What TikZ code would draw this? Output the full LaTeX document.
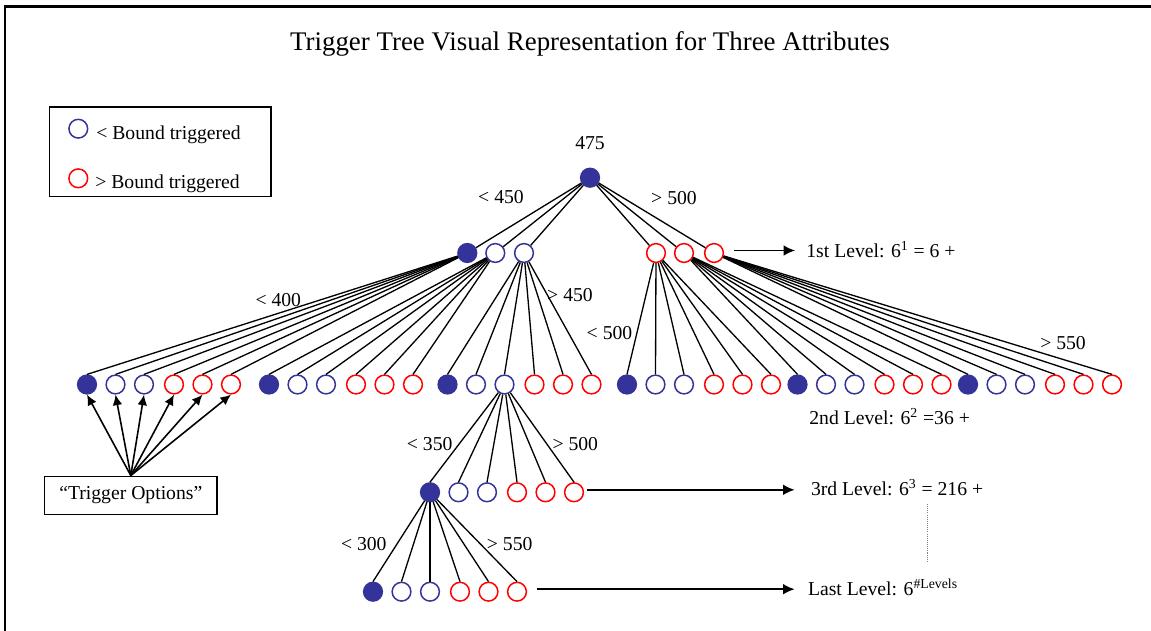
\documentclass[tikz,border=0pt]{standalone}
\usepackage{fontspec}
\setmainfont{Liberation Serif}
\usetikzlibrary{arrows.meta}

\definecolor{lowblue}{HTML}{333399}
\definecolor{highred}{HTML}{FF0000}

\begin{document}
\begin{tikzpicture}[
    x=0.02cm, y=-0.02cm,
    edge/.style={line width=0.75pt},
    arr/.style={-{Latex[length=6.5pt,width=6pt]}, line width=0.9pt},
    trig/.style={-{Latex[length=6pt,width=5.5pt]}, line width=0.9pt},
    bnode/.style={circle, line width=0.85pt, minimum size=0.375cm, inner sep=0pt},
    firenode/.style={bnode, draw=lowblue, fill=lowblue},
    lonode/.style={bnode, draw=lowblue, fill=white},
    hinode/.style={bnode, draw=highred, fill=white},
    lbl/.style={font=\fontsize{11.2}{13}\selectfont, inner sep=0pt, anchor=base},
    lvl/.style={lbl, anchor=base west},
    box/.style={draw, line width=0.9pt, inner sep=0pt}
]
\useasboundingbox (0,0) rectangle (1151,631);
% Frame and title
\draw[line width=1.2pt] (5,631) -- (5,6.5) -- (1151,6.5);
\node[lbl, font=\fontsize{15.3}{18}\selectfont] (title) at (590,50.7)
    {Trigger Tree Visual Representation for Three Attributes};
% Legend
\node[box, minimum width=4.434cm, minimum height=1.794cm] (legend) at (160.2,151.8) {};
\node[lonode] (keylo) at (78.3,128.7) {};
\node[hinode] (keyhi) at (78.3,178.3) {};
\node[lvl] (keylotxt) at (96,139.3) {< Bound triggered};
\node[lvl] (keyhitxt) at (95,188.3) {> Bound triggered};
% Root and 1st level
\node[firenode] (root) at (590,177.7) {};
\node[lbl] (v475) at (590,150) {475};
\node[firenode] (l1) at (467.3,253) {};
\node[lonode]   (l2) at (495.3,253) {};
\node[lonode]   (l3) at (524,253) {};
\node[hinode]   (r1) at (656,253) {};
\node[hinode]   (r2) at (684,253) {};
\node[hinode]   (r3) at (714,253) {};
\foreach \c in {l1,l2,l3,r1,r2,r3}
    \draw[edge] (root) -- (\c);
\node[lbl] (lt450) at (501,204) {< 450};
\node[lbl] (gt500) at (674,205) {> 500};
% Groups of six: 2nd level (a-f), 3rd level (g), last level (h)
\foreach \g/\x/\y in {a/87/384.5, b/269/384.5, c/447.5/384.5, d/627/384.5,
        e/797.5/384.5, f/968/384.5, g/430/492.3, h/373/591.7} {
    \node[firenode] (\g1) at (\x,\y) {};
    \node[lonode]   (\g2) at (\x+28.5,\y) {};
    \node[lonode]   (\g3) at (\x+57,\y) {};
    \node[hinode]   (\g4) at (\x+87,\y) {};
    \node[hinode]   (\g5) at (\x+115.5,\y) {};
    \node[hinode]   (\g6) at (\x+144,\y) {};
}
\foreach \p/\g in {l1/a, l2/b, l3/c, r1/d, r2/e, r3/f, c3/g, g1/h}
    \foreach \i in {1,...,6}
        \draw[edge] (\p) -- (\g\i.north);
\node[lbl] (lt400) at (278.3,306) {< 400};
\node[lbl] (gt450) at (570,301) {> 450};
\node[lbl] (lt500) at (609.5,339) {< 500};
\node[lbl] (gt550) at (1063,349.7) {> 550};
\node[lbl] (lt350) at (429.7,450) {< 350};
\node[lbl] (gt500b) at (575.3,450) {> 500};
\node[lbl] (lt300) at (363.8,550) {< 300};
\node[lbl] (gt550b) at (509.7,550) {> 550};
% Trigger options
\node[box, lbl, anchor=center, minimum width=3.46cm, minimum height=0.76cm] (trigopt)
    at (130.8,495.3) {“Trigger Options”};
\foreach \i in {1,...,6}
    \draw[trig] (trigopt.north) -- (a\i.south);
% Level counts
\node[lvl] (lev1) at (806,257) {1st Level: 6\textsuperscript{1} = 6 +};
\node[lvl] (lev2) at (809,424) {2nd Level: 6\textsuperscript{2} =36 +};
\node[lvl] (lev3) at (810.7,495) {3rd Level: 6\textsuperscript{3} = 216 +};
\node[lvl] (lev4) at (807.7,595) {Last Level: 6\textsuperscript{\#Levels}};
\draw[arr] ([shift={(0.2cm,0.05cm)}]r3.east) -- ++(61,0);
\draw[arr] ([shift={(0.05cm,0.05cm)}]g6.east) -- ++(208,0);
\draw[arr] ([shift={(0.19cm,0.05cm)}]h6.east) -- ++(258,0);
\coordinate (dotA) at (927.7,504);
\coordinate (dotB) at (927.7,563);
\draw[gray, line width=0.6pt, dash pattern=on 0.6pt off 0.6pt] (dotA) -- (dotB);
\end{tikzpicture}
\end{document}
